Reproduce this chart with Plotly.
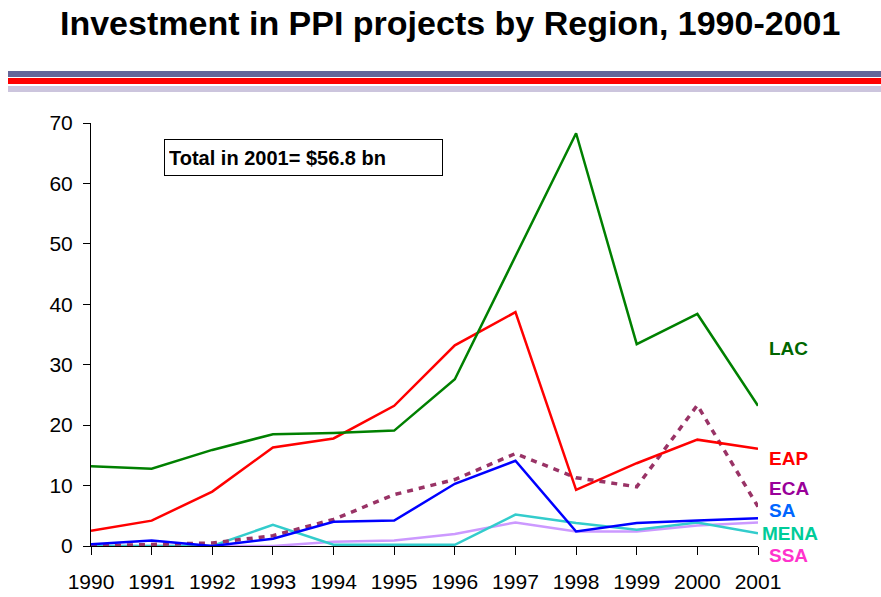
import plotly.graph_objects as go

years = list(range(1990, 2002))
lac = [13.2, 12.8, 15.9, 18.5, 18.7, 19.1, 27.6, 48.0, 68.3, 33.4, 38.4, 23.2]
eap = [2.5, 4.2, 9.0, 16.3, 17.8, 23.2, 33.2, 38.7, 9.3, 13.7, 17.6, 16.1]
eca = [0.0, 0.3, 0.5, 1.7, 4.4, 8.5, 11.0, 15.3, 11.3, 9.8, 23.3, 6.5]
sa = [0.3, 0.9, 0.0, 1.2, 4.0, 4.2, 10.3, 14.1, 2.4, 3.8, 4.2, 4.6]
mena = [0.0, 0.0, 0.0, 3.5, 0.2, 0.2, 0.2, 5.2, 3.8, 2.7, 3.9, 2.1]
ssa = [0.0, 0.0, 0.0, 0.0, 0.7, 0.9, 2.0, 3.9, 2.4, 2.4, 3.4, 3.9]

y_ticks = [0, 10, 20, 30, 40, 50, 60, 70]
title_text = "Investment in PPI projects by Region, 1990-2001"
box_text = "Total in 2001= $56.8 bn"

# plot area geometry (pixels)
W, H = 881, 597
L, R, T, B = 91, 123, 123, 51
PW, PH = W - L - R, H - T - B

def px(x):
    return (x - L) / PW

def py(y):
    return (H - B - y) / PH

fig = go.Figure()

series = [
    ("SSA", ssa, "#CC99FF", None, 2.5),
    ("MENA", mena, "#33CCCC", None, 2.5),
    ("ECA", eca, "#993366", "6px,6px", 3.5),
    ("SA", sa, "#0000FF", None, 2.5),
    ("EAP", eap, "#FF0000", None, 2.5),
    ("LAC", lac, "#008000", None, 2.5),
]
for name, vals, col, dash, w in series:
    fig.add_trace(go.Scatter(
        x=years, y=vals, mode="lines", name=name,
        line=dict(color=col, width=w, dash=dash),
        showlegend=False, hoverinfo="skip",
    ))

font_family = "Liberation Sans, Arial, sans-serif"

labels = [
    ("LAC", "#006600", 767, 348),
    ("EAP", "#FF0000", 767, 458),
    ("ECA", "#990099", 767, 488),
    ("SA", "#0066FF", 767, 510),
    ("MENA", "#00CC99", 760, 533),
    ("SSA", "#FF33CC", 767, 555),
]
annotations = []
for txt, col, x, y in labels:
    annotations.append(dict(
        text="<b>%s</b>" % txt, x=px(x), y=py(y), xref="paper", yref="paper",
        xanchor="left", yanchor="middle", showarrow=False,
        font=dict(family=font_family, size=19, color=col),
    ))

annotations.append(dict(
    text="<b>%s</b>" % box_text, x=px(164), y=py(139), xref="paper", yref="paper",
    xanchor="left", yanchor="top", showarrow=False,
    font=dict(family=font_family, size=20, color="black"),
    bordercolor="black", borderwidth=1, borderpad=4, bgcolor="white",
    width=269, height=27, align="left",
))

annotations.append(dict(
    text="<b>%s</b>" % title_text, x=px(450), y=py(23), xref="paper", yref="paper",
    xanchor="center", yanchor="middle", showarrow=False,
    font=dict(family=font_family, size=34, color="black"),
))

shapes = []
for y0, y1, col in [(71, 77, "#666699"), (78, 84, "#FF0000"), (86, 92, "#CCC5DD")]:
    shapes.append(dict(
        type="rect", xref="paper", yref="paper",
        x0=px(8), x1=px(881), y0=py(y1), y1=py(y0),
        fillcolor=col, line=dict(width=0), layer="above",
    ))

fig.update_layout(
    width=W, height=H,
    margin=dict(l=L, r=R, t=T, b=B, pad=0, autoexpand=False),
    paper_bgcolor="white", plot_bgcolor="white",
    font=dict(family=font_family, color="black"),
    annotations=annotations, shapes=shapes,
    xaxis=dict(
        range=[1990, 2001], tickmode="array", tickvals=years,
        ticktext=[str(y) for y in years], automargin=False,
        showgrid=False, zeroline=False, showline=True, linecolor="black", linewidth=1,
        ticks="outside", ticklen=8, tickcolor="black", tickwidth=1,
        tickfont=dict(size=21), ticklabelstandoff=9, fixedrange=True,
    ),
    yaxis=dict(
        range=[0, 70], tickmode="array", tickvals=y_ticks,
        ticktext=[str(v) for v in y_ticks], automargin=False,
        showgrid=False, zeroline=False, showline=True, linecolor="black", linewidth=1,
        ticks="outside", ticklen=7, tickcolor="black", tickwidth=1,
        tickfont=dict(size=21), ticklabelstandoff=6, fixedrange=True,
    ),
)

fig.write_html(
    "out.html",
    config={"displayModeBar": False},
    post_script="document.body.style.margin='0px';document.body.style.overflow='hidden';",
)
